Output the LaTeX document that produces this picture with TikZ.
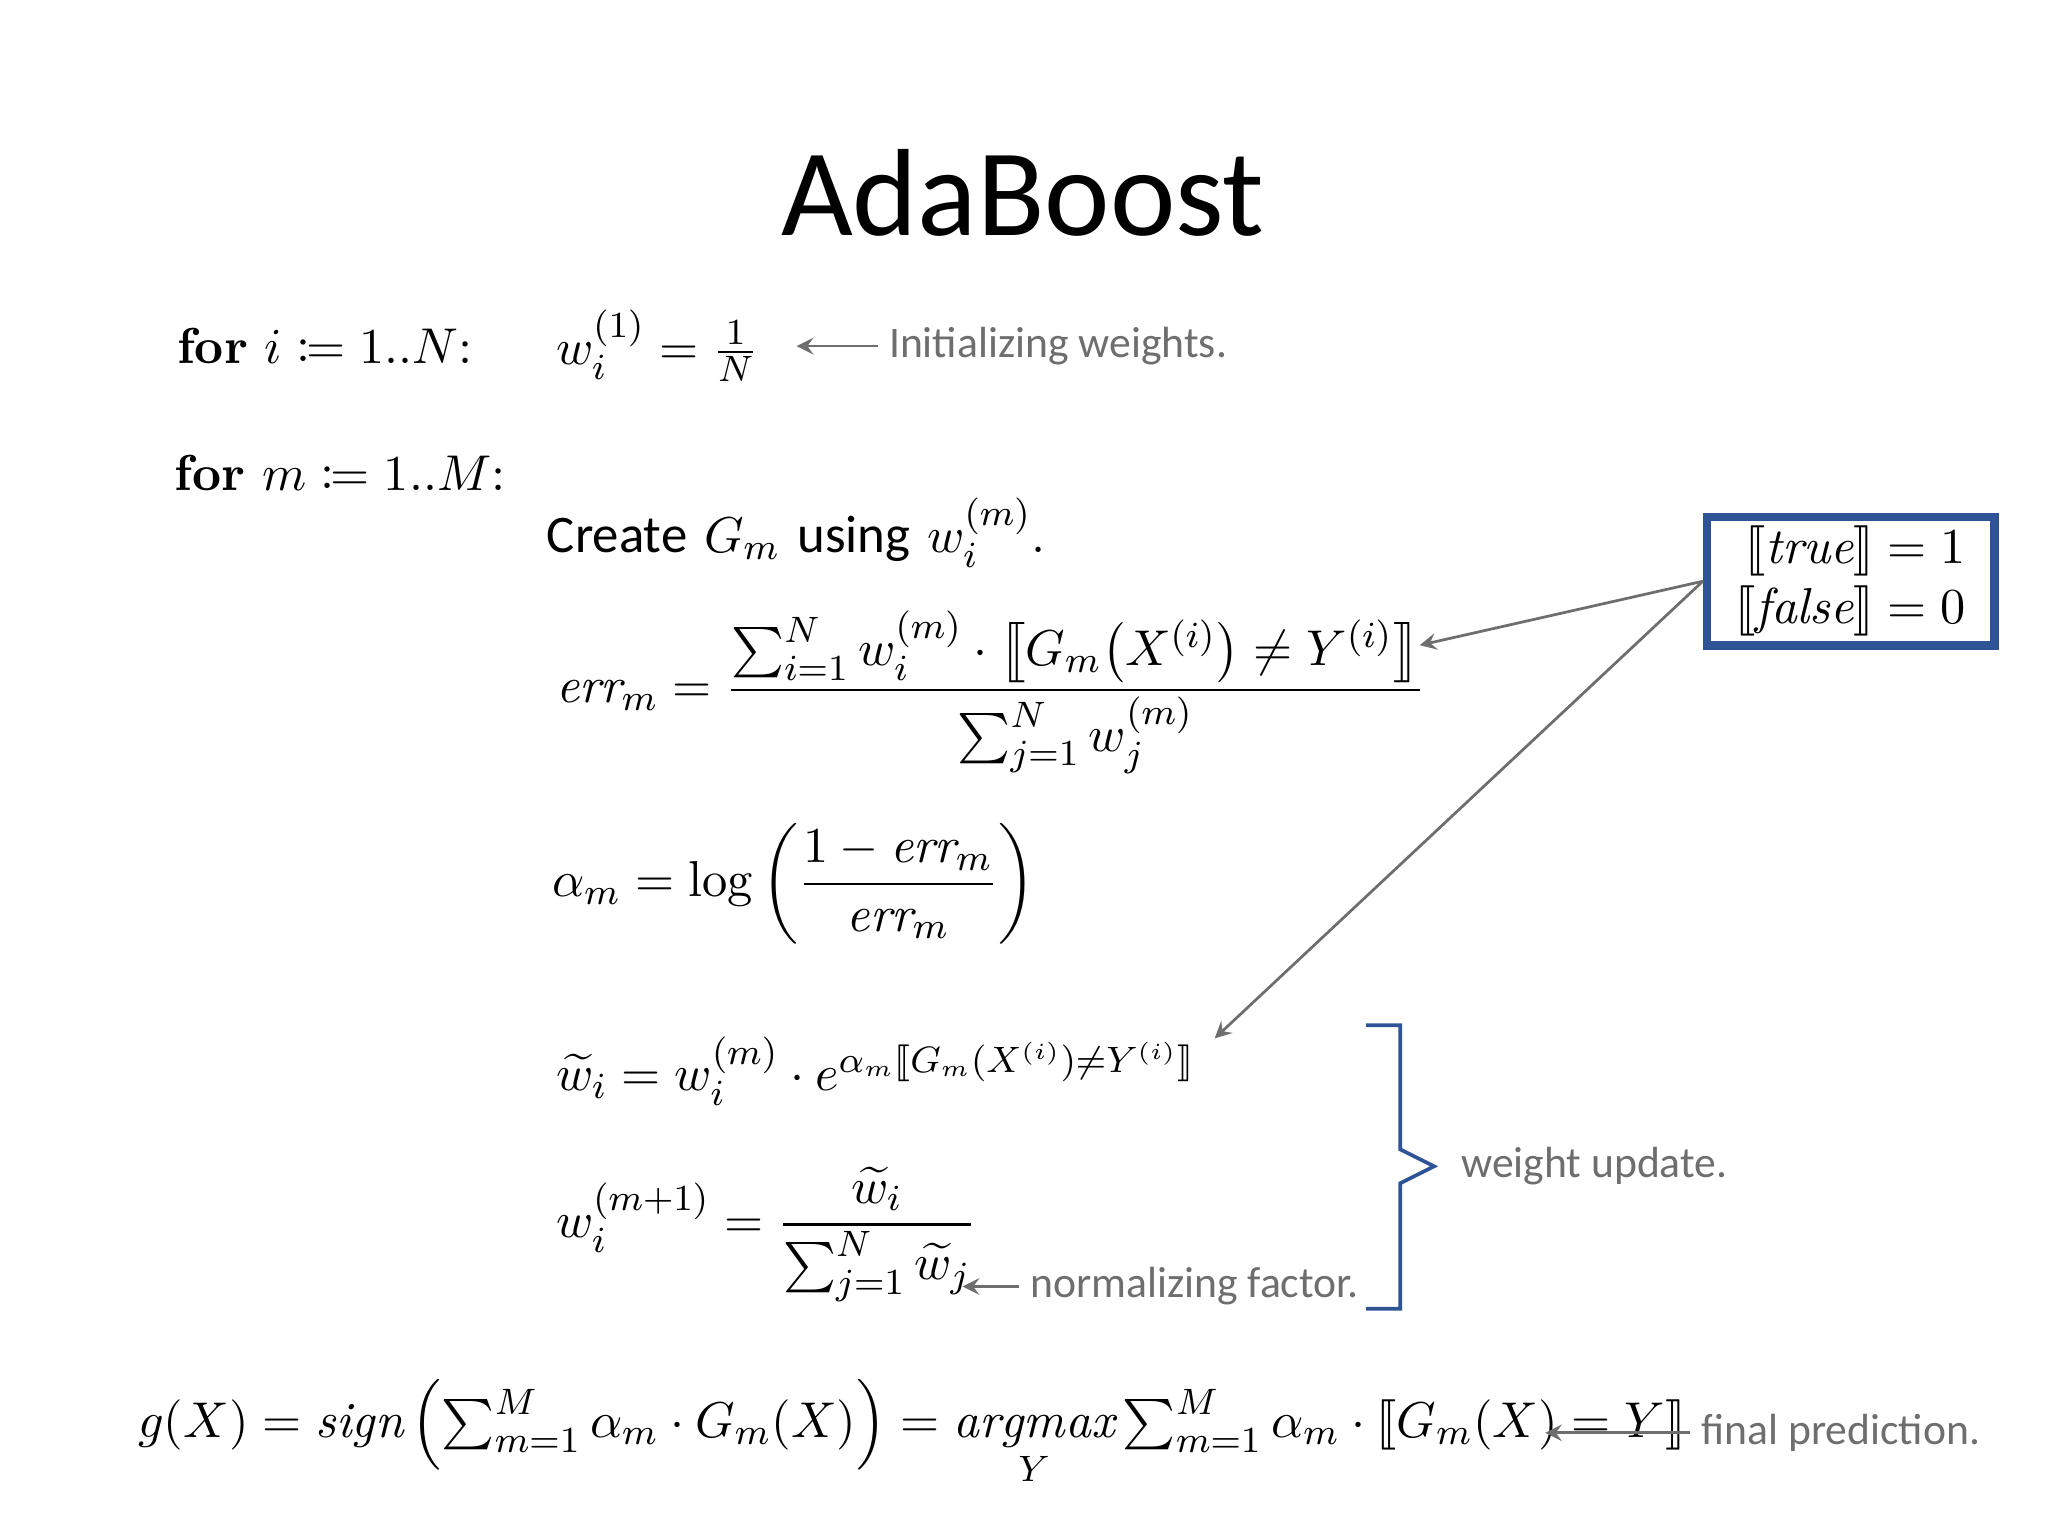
\documentclass[tikz,border=0pt]{standalone}
\usepackage{amsmath,mathtools,stmaryrd}
\usepackage{fontspec}
\setmainfont{Latin Modern Roman}
\newfontfamily\calfont{Carlito}
\usetikzlibrary{decorations.pathreplacing}
\definecolor{gr}{RGB}{110,110,110}
\definecolor{bl}{RGB}{46,84,150}
\tikzset{lbl/.style={font=\calfont\fontsize{9.5}{11}\selectfont,text=gr,anchor=west,inner sep=0},
eq/.style={anchor=west,inner sep=0,font=\fontsize{11}{13}\selectfont},
garr/.style={->,>=stealth,gr,line width=0.6pt}}
\begin{document}
\begin{tikzpicture}[x=0.01cm,y=-0.01cm]
\useasboundingbox (0,0) rectangle (1568,1176);
\node[font=\calfont\fontsize{27}{32}\selectfont] (title) at (783,148) {AdaBoost};
\node[eq] (for1) at (135,265) {$\mathbf{for}\ i\coloneqq 1..N$:};
\node[eq] (w1) at (425,265) {$w_i^{(1)}=\frac{1}{N}$};
\node[lbl] (l1) at (680,265) {Initializing weights.};
\coordinate (a1) at (610,265);
\draw[garr] (l1.west) ++(-8,0) -- (a1);
\node[eq] (for2) at (133,362) {$\mathbf{for}\ m\coloneqq 1..M$:};
\node[eq] (create) at (418,408) {{\calfont\fontsize{11.5}{13}\selectfont Create} $G_m$ {\calfont\fontsize{11.5}{13}\selectfont using} $w_i^{(m)}$.};
\node[eq] (err) at (425,530) {$\mathit{err}_m=\dfrac{\sum_{i=1}^N w_i^{(m)}\cdot\big\llbracket G_m\big(X^{(i)}\big)\neq Y^{(i)}\big\rrbracket}{\sum_{j=1}^N w_j^{(m)}}$};
\node[eq] (alpha) at (422,677) {$\alpha_m=\log\left(\dfrac{1-\mathit{err}_m}{\mathit{err}_m}\right)$};
\node[eq] (wt) at (425,820) {$\widetilde{w}_i=w_i^{(m)}\cdot e^{\alpha_m\llbracket G_m(X^{(i)})\neq Y^{(i)}\rrbracket}$};
\node[eq] (wn) at (425,945) {$w_i^{(m+1)}=\dfrac{\widetilde{w}_i}{\sum_{j=1}^N\widetilde{w}_j}$};
\node[lbl] (l2) at (788,985) {normalizing factor.};
\coordinate (a2) at (737,985);
\draw[garr] (l2.west) ++(-8,0) -- (a2);
\draw[bl,line width=0.8pt] (1046,785) -- (1072,785) -- (1072,880) -- (1098,893) -- (1072,906) -- (1072,1002) -- (1046,1002);
\node[lbl] (l3) at (1118,893) {weight update.};
\node[draw=bl,line width=1.8pt,minimum width=2.2cm,minimum height=0.98cm,inner sep=2pt,font=\fontsize{11}{13}\selectfont,align=right] (box) at (1417,445) {$\llbracket \mathit{true}\rrbracket=1$\\$\llbracket \mathit{false}\rrbracket=0$};
\coordinate (t1) at (1087,494);
\coordinate (t2) at (930,795);
\draw[garr] (box.west) -- (t1);
\draw[garr] (box.west) -- (t2);
\node[eq,font=\fontsize{11}{13}\selectfont] (g) at (105,1097) {$g(X)=\mathit{sign}\left(\sum_{m=1}^{M}\alpha_m\cdot G_m(X)\right)=\underset{Y}{\mathit{argmax}}\sum_{m=1}^{M}\alpha_m\cdot\llbracket G_m(X)=Y\rrbracket$};
\node[lbl] (l4) at (1302,1097) {final prediction.};
\coordinate (a4) at (1183,1097);
\draw[garr] (l4.west) ++(-8,0) -- (a4);
\end{tikzpicture}
\end{document}
